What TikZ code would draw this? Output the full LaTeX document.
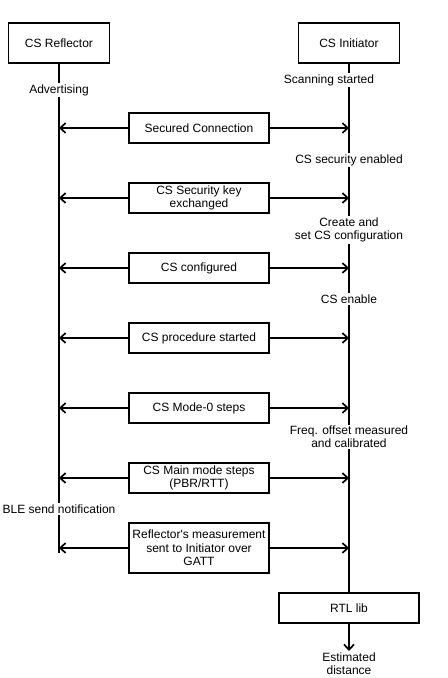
\documentclass[tikz,border=0pt]{standalone}
\usepackage{fontspec}
\setmainfont{Liberation Sans}
\usetikzlibrary{arrows.meta}
\begin{document}
\begin{tikzpicture}[x=0.75pt,y=-0.75pt,
		font=\fontsize{9}{10}\selectfont,
		actor/.style={draw,line width=1.1pt,minimum width=75.75pt,minimum height=30pt,inner sep=0pt,align=center},
		msg/.style={draw,line width=1.1pt,minimum width=105pt,minimum height=22.5pt,inner sep=1pt,align=center},
		note/.style={fill=white,inner sep=1pt,align=center},
		life/.style={line width=1.5pt},
		flow/.style={line width=1.5pt,-{Straight Barb[length=4pt,width=7.5pt,line width=1.3pt]}}]
			\useasboundingbox (0,0) rectangle (447,678);
			% actors
			\node[actor] (refl) at (59,43) {CS Reflector};
			\node[actor] (init) at (349,43) {CS Initiator};
			\node[msg] (rtl) at (349,608) {RTL lib};
			\coordinate (reflend) at (59,553);
			\coordinate (distend) at (349,651);
			% lifelines
			\draw[life] (refl.south) -- (reflend);
			\draw[life] (init.south) -- (rtl.north);
			\draw[flow] (rtl.south) -- (distend);
			% states
			\node[note] (scan) at (329,80) {Scanning started};
			\node[note] (adv) at (59,90) {Advertising};
			\node[note] (sec) at (349,160) {CS security enabled};
			\node[note] (create) at (349,230) {Create and\\set CS configuration};
			\node[note] (enab) at (349,299) {CS enable};
			\node[note] (freq) at (349,437) {Freq. offset measured\\and calibrated};
			\node[note] (ble) at (59,509) {BLE send notification};
			\node[note,below=0pt] (dist) at (distend) {Estimated\\distance};
			% messages
			\node[msg] (conn) at (199,128) {Secured Connection};
			\node[msg] (key) at (199,198) {CS Security key\\exchanged};
			\node[msg] (cfg) at (199,268) {CS configured};
			\node[msg] (proc) at (199,338) {CS procedure started};
			\node[msg] (mode) at (199,408) {CS Mode-0 steps};
			\node[msg] (main) at (199,478) {CS Main mode steps\\(PBR/RTT)};
			\node[msg,minimum height=37.5pt] (meas) at (199,548) {Reflector\textquotesingle s measurement\\sent to Initiator over\\GATT};
			\foreach \m in {conn,key,cfg,proc,mode,main,meas} {
				\draw[flow] (\m.west) -- (\m.west -| refl);
				\draw[flow] (\m.east) -- (\m.east -| init);
			}
		\end{tikzpicture}
\end{document}
